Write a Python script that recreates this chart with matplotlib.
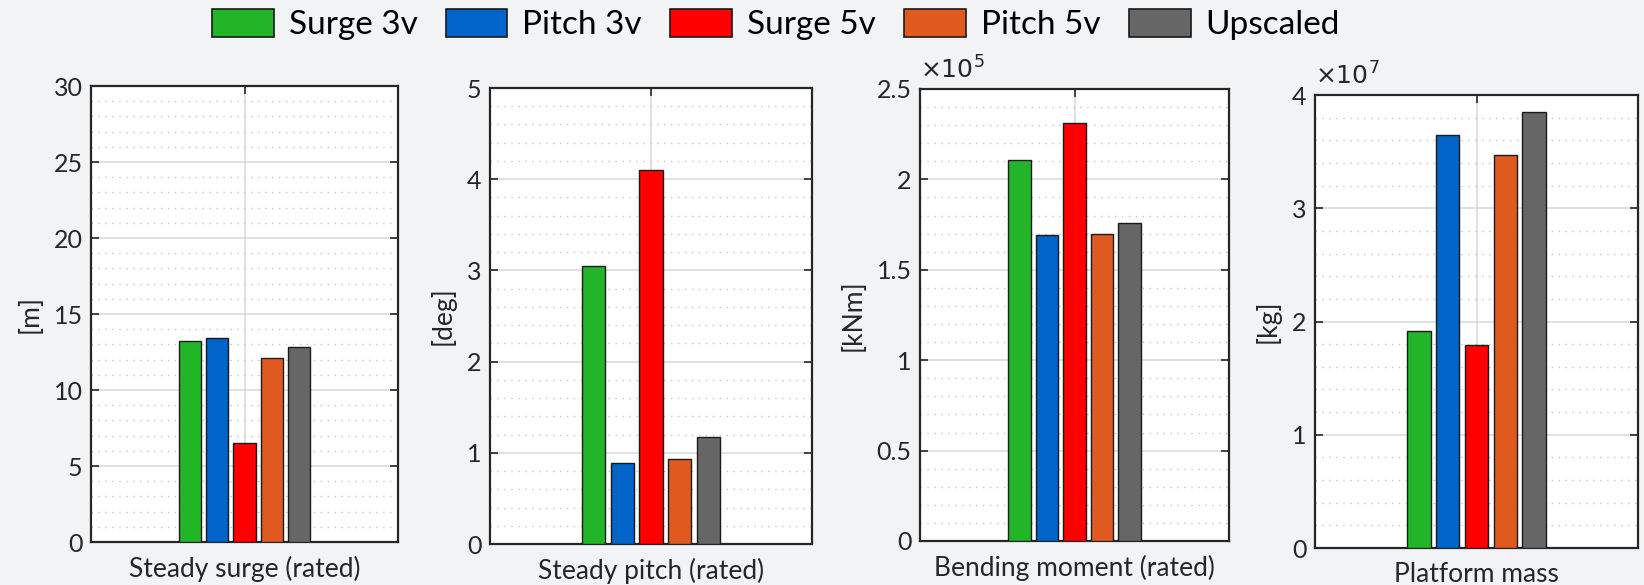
import matplotlib.pyplot as plt
import numpy as np
from matplotlib.patches import Patch
from matplotlib.ticker import FuncFormatter, MultipleLocator

plt.rcParams['font.family'] = ['Lato', 'DejaVu Sans']

series = ['Surge 3v', 'Pitch 3v', 'Surge 5v', 'Pitch 5v', 'Upscaled']
colors = ['#22b527', '#0064c8', '#ff0000', '#e05a20', '#666666']

titles = ['Steady surge (rated)', 'Steady pitch (rated)', 'Bending moment (rated)', 'Platform mass']
units = ['[m]', '[deg]', '[kNm]', '[kg]']

surge_vals = [13.25, 13.45, 6.5, 12.1, 12.85]
pitch_vals = [3.05, 0.89, 4.1, 0.93, 1.17]
moment_vals = [2.11e5, 1.69e5, 2.31e5, 1.70e5, 1.76e5]
mass_vals = [1.92e7, 3.65e7, 1.79e7, 3.47e7, 3.85e7]

ylims = [30, 5, 2.5e5, 4e7]
major = [5, 1, 0.5e5, 1e7]
minor = [1, 0.2, 0.1e5, 0.2e7]
exps = [0, 0, 5, 7]

# axes rectangles in pixels: left, right, top, bottom
rects = [(91, 398, 86, 542), (490, 812, 88, 544), (920, 1229, 89, 541), (1315, 1638, 95, 548)]

W, H = 1644, 585
fig = plt.figure(figsize=(W / 100, H / 100), dpi=100)
fig.patch.set_facecolor('#f2f3f5')

data = [surge_vals, pitch_vals, moment_vals, mass_vals]
offsets = (np.arange(5) - 2) * 0.089

for k in range(4):
    l, r, t, b = rects[k]
    ax = fig.add_axes([l / W, (H - b) / H, (r - l) / W, (b - t) / H])
    ax.set_facecolor('white')
    ax.bar(1 + offsets, data[k], width=0.0717, color=colors,
           edgecolor='#1a1a1a', linewidth=1.0, zorder=3)
    ax.set_xlim(0.5, 1.5)
    ax.set_ylim(0, ylims[k])
    ax.set_xticks([1])
    ax.set_xticklabels([''])
    ax.yaxis.set_major_locator(MultipleLocator(major[k]))
    ax.yaxis.set_minor_locator(MultipleLocator(minor[k]))
    e = exps[k]
    ax.yaxis.set_major_formatter(FuncFormatter(lambda v, p, e=e: f'{v / 10**e:g}'))
    ax.grid(True, which='major', color='#dcdcdc', linewidth=1.2, zorder=0)
    ax.grid(True, which='minor', axis='y', color='#c4c4c4', linewidth=1.0,
            linestyle=(0, (1, 4)), zorder=0)
    ax.tick_params(axis='both', which='major', direction='in', length=6, width=1.2,
                   left=True, right=True, top=True, bottom=True,
                   labelsize=18, colors='#262626', pad=6)
    ax.tick_params(axis='y', which='minor', length=0)
    for s in ax.spines.values():
        s.set_color('#262626')
        s.set_linewidth(1.6)
    ax.set_ylabel(units[k], fontsize=19, color='#262626', labelpad=8)
    ax.set_xlabel(titles[k], fontsize=19, color='#262626', labelpad=4)
    if e:
        ax.text(0.0, 1.015, r'$\times10^{%d}$' % e, transform=ax.transAxes,
                fontsize=18, color='#262626', ha='left', va='bottom',
                math_fontfamily='dejavusans')

handles = [Patch(facecolor=c, edgecolor='#1a1a1a', linewidth=1.2) for c in colors]
fig.legend(handles, series, loc='center', bbox_to_anchor=(0.472, 0.958), ncol=5,
           frameon=False, fontsize=24, handlelength=1.85, handleheight=0.95,
           handletextpad=0.45, columnspacing=0.85)

fig.savefig('out.png', dpi=100, facecolor=fig.get_facecolor())
